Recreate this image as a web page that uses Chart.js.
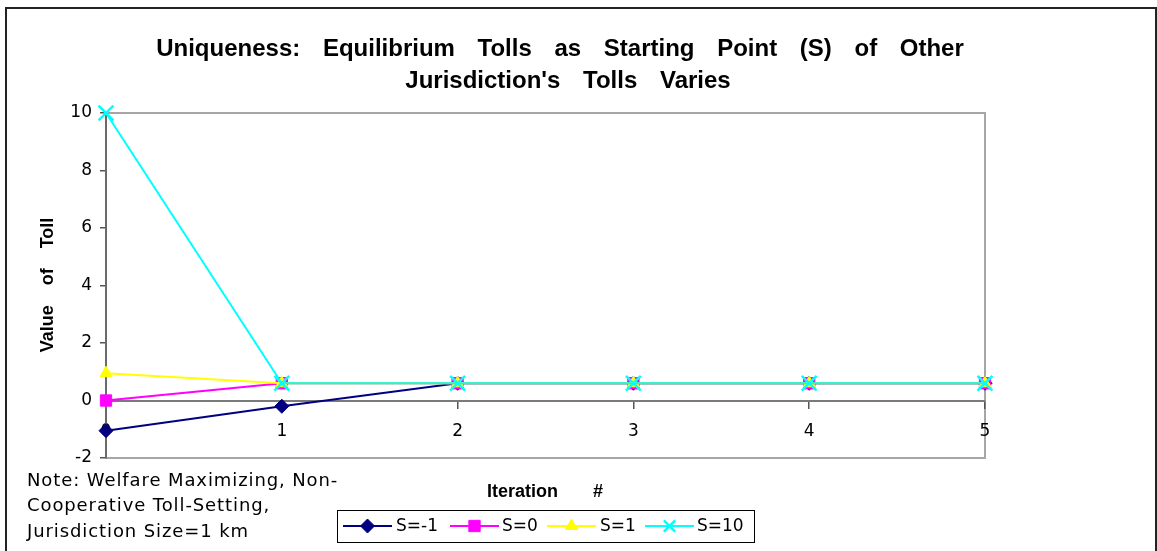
<!DOCTYPE html>
<html><head><meta charset="utf-8">
<script src="https://cdn.jsdelivr.net/npm/chart.js@4/dist/chart.umd.min.js"></script>
<style>html,body{margin:0;padding:0;background:#fff}#wrap{width:1157px;height:551px;position:relative}</style>
</head><body><div id="wrap"><canvas id="c" width="1157" height="551"></canvas></div>
<script>
const categories = ['0','1','2','3','4','5'];
const seriesNames = ['S=-1','S=0','S=1','S=10'];
const sMinus1 = [-1.05, -0.2, 0.6, 0.6, 0.6, 0.6];
const s0 = [0, 0.6, 0.6, 0.6, 0.6, 0.6];
const s1 = [0.95, 0.6, 0.6, 0.6, 0.6, 0.6];
const s10 = [10, 0.6, 0.6, 0.6, 0.6, 0.6];
const yTicks = [-2, 0, 2, 4, 6, 8, 10];
const titleLines = ['Uniqueness: Equilibrium Tolls as Starting Point (S) of Other', "Jurisdiction's Tolls Varies"];
const yTitle = 'Value of Toll';
const xTitle = 'Iteration #';
const noteLines = ['Note: Welfare Maximizing, Non-', 'Cooperative Toll-Setting,', 'Jurisdiction Size=1 km'];

const colors = ['#000080', '#FF00FF', '#FFFF00', '#00FFFF'];
const styles = ['rectRot', 'rect', 'triangle', 'crossRot'];
const radii = [7, 8, 7, 10.5];
const values = [sMinus1, s0, s1, s10];

const datasets = values.map((v, i) => ({
  label: seriesNames[i],
  data: v,
  borderColor: colors[i],
  backgroundColor: colors[i],
  borderWidth: 2,
  pointStyle: styles[i],
  pointRadius: radii[i],
  pointBorderWidth: i === 3 ? 2.5 : 1,
  pointBorderColor: colors[i],
  pointBackgroundColor: colors[i],
  tension: 0,
  clip: false,
  order: 3 - i
}));

function drawMarker(ctx, style, x, y, r, color, bw) {
  ctx.save();
  ctx.fillStyle = color; ctx.strokeStyle = color; ctx.lineWidth = bw;
  if (Chart.helpers && Chart.helpers.drawPoint) {
    Chart.helpers.drawPoint(ctx, {pointStyle: style, radius: r, borderWidth: bw, rotation: 0}, x, y);
  }
  ctx.restore();
}

const decor = {
  id: 'decor',
  beforeDraw(chart) {
    const {ctx, chartArea: a} = chart;
    ctx.save();
    ctx.fillStyle = '#fff';
    ctx.fillRect(0, 0, chart.width, chart.height);
    ctx.strokeStyle = '#222';
    ctx.lineWidth = 2;
    ctx.strokeRect(6, 8, 1150, 560);
    ctx.strokeStyle = '#a6a6a6';
    ctx.lineWidth = 2;
    ctx.strokeRect(a.left, a.top, a.right - a.left, a.bottom - a.top);
    ctx.restore();
  },
  afterDraw(chart) {
    const {ctx, chartArea: a} = chart;
    ctx.save();
    ctx.fillStyle = '#000';
    // title
    ctx.font = 'bold 24px "Liberation Sans", Arial, sans-serif';
    ctx.textAlign = 'center';
    ctx.textBaseline = 'alphabetic';
    if ('wordSpacing' in ctx) ctx.wordSpacing = '16px';
    ctx.fillText(titleLines[0], 560, 56);
    ctx.fillText(titleLines[1], 568, 88);
    // x title
    ctx.font = 'bold 18px "Liberation Sans", Arial, sans-serif';
    if ('wordSpacing' in ctx) ctx.wordSpacing = '30px';
    ctx.textBaseline = 'middle';
    ctx.fillText(xTitle, 545, 492);
    // y title
    ctx.save();
    ctx.translate(48, 285);
    ctx.rotate(-Math.PI / 2);
    if ('wordSpacing' in ctx) ctx.wordSpacing = '15px';
    ctx.fillText(yTitle, 0, 0);
    ctx.restore();
    // note
    ctx.font = '18px "DejaVu Sans", sans-serif';
    if ('wordSpacing' in ctx) ctx.wordSpacing = '0px';
    if ('letterSpacing' in ctx) ctx.letterSpacing = '0.9px';
    ctx.textAlign = 'left';
    noteLines.forEach((t, i) => ctx.fillText(t, 27, 481 + i * 25.5));
    if ('letterSpacing' in ctx) ctx.letterSpacing = '0px';
    // legend
    ctx.strokeStyle = '#000';
    ctx.lineWidth = 1;
    ctx.strokeRect(337.5, 510.5, 417, 32);
    const lineStarts = [343, 450, 547, 645];
    const textStarts = [396, 502, 600, 697];
    const ly = 526;
    datasets.forEach((d, i) => {
      ctx.strokeStyle = d.borderColor;
      ctx.lineWidth = 2;
      ctx.beginPath();
      ctx.moveTo(lineStarts[i], ly);
      ctx.lineTo(lineStarts[i] + 49, ly);
      ctx.stroke();
      drawMarker(ctx, d.pointStyle, lineStarts[i] + 24.5, ly, Math.min(d.pointRadius, 8), d.borderColor, d.pointBorderWidth);
      ctx.fillStyle = '#000';
      ctx.font = '17px "DejaVu Sans", sans-serif';
      ctx.textBaseline = 'middle';
      ctx.textAlign = 'left';
      ctx.fillText(d.label, textStarts[i], ly + 1);
    });
    ctx.restore();
  }
};

new Chart(document.getElementById('c'), {
  type: 'line',
  data: { labels: categories, datasets },
  options: {
    responsive: false,
    animation: false,
    devicePixelRatio: 1,
    layout: { padding: { top: 113, bottom: 93, right: 172, left: 0 } },
    plugins: { legend: { display: false }, title: { display: false }, tooltip: { enabled: false } },
    scales: {
      x: {
        type: 'category',
        offset: false,
        position: { y: 0 },
        grid: { drawOnChartArea: false, drawTicks: true, tickLength: 7, color: '#555', lineWidth: 1.5 },
        border: { display: true, color: '#7a7a7a', width: 2 },
        ticks: { color: '#000', font: { family: 'DejaVu Sans', size: 17 }, padding: 14, maxRotation: 0 }
      },
      y: {
        min: -2, max: 10,
        afterBuildTicks(scale) { scale.ticks = yTicks.map(v => ({ value: v })); },
        afterFit(scale) { scale.width = 106; },
        grid: { drawOnChartArea: false, drawTicks: true, tickLength: 6, color: '#555', lineWidth: 1.5 },
        border: { display: true, color: '#6a6a6a', width: 2 },
        ticks: { color: '#000', font: { family: 'DejaVu Sans', size: 17 }, padding: 8 }
      }
    }
  },
  plugins: [decor]
});
</script></body></html>
